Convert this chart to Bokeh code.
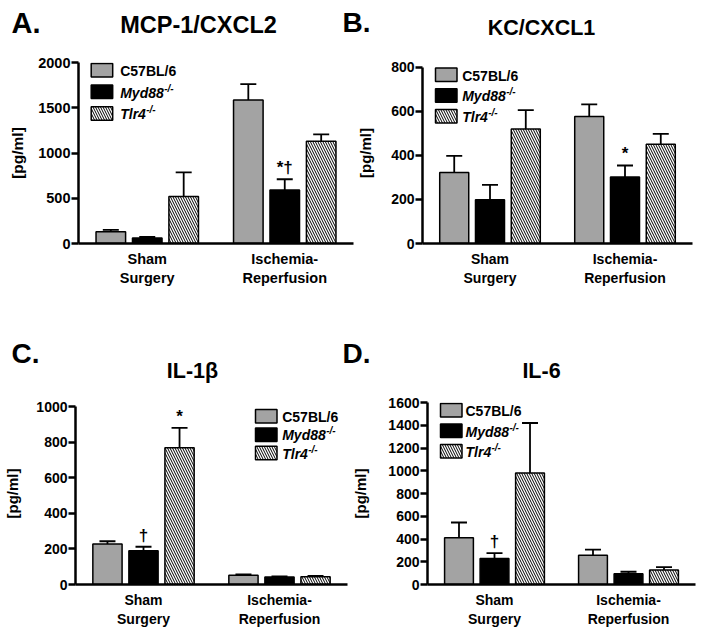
from bokeh.plotting import figure
from bokeh.models import ColumnDataSource, FactorRange, Label, BoxAnnotation, FixedTicker, Range1d
from bokeh.transform import dodge
from bokeh.layouts import row, column
from bokeh.embed import file_html
from bokeh.resources import INLINE
from bokeh.core.properties import value

FONT = "Liberation Sans"

groups = ["Sham\nSurgery", "Ischemia-\nReperfusion"]
strains = ["C57BL/6", "Myd88", "Tlr4"]

# A. MCP-1/CXCL2  (mean, SEM) for [Sham, Ischemia-Reperfusion]
mcp_wt = [130, 1585]
mcp_wt_sem = [20, 175]
mcp_myd = [60, 590]
mcp_myd_sem = [12, 120]
mcp_tlr = [520, 1130]
mcp_tlr_sem = [265, 75]
mcp_marks = [["", ""], ["", "*\u2020"], ["", ""]]
mcp_ticks = [0, 500, 1000, 1500, 2000]

# B. KC/CXCL1
kc_wt = [322, 576]
kc_wt_sem = [76, 55]
kc_myd = [198, 302]
kc_myd_sem = [68, 52]
kc_tlr = [520, 450]
kc_tlr_sem = [85, 47]
kc_marks = [["", ""], ["", "*"], ["", ""]]
kc_ticks = [0, 200, 400, 600, 800]

# C. IL-1beta
il1_wt = [228, 52]
il1_wt_sem = [15, 5]
il1_myd = [190, 42]
il1_myd_sem = [22, 4]
il1_tlr = [768, 44]
il1_tlr_sem = [112, 4]
il1_marks = [["", ""], ["\u2020", ""], ["*", ""]]
il1_ticks = [0, 200, 400, 600, 800, 1000]

# D. IL-6
il6_wt = [410, 258]
il6_wt_sem = [135, 48]
il6_myd = [228, 95]
il6_myd_sem = [48, 17]
il6_tlr = [980, 128]
il6_tlr_sem = [440, 25]
il6_marks = [["", ""], ["\u2020", ""], ["", ""]]
il6_ticks = [0, 200, 400, 600, 800, 1000, 1200, 1400, 1600]

panel_letters = ["A.", "B.", "C.", "D."]
panel_titles = ["MCP-1/CXCL2", "KC/CXCL1", "IL-1\u03b2", "IL-6"]

GRAY = "#a3a3a3"
bar_styles = [
    dict(fill_color=GRAY),
    dict(fill_color="black"),
    dict(fill_color="white", hatch_pattern="left_diagonal_line", hatch_color="black",
         hatch_scale=5, hatch_weight=1),
]
offsets = [-0.265, 0.0, 0.265]


def frame_origin(cfg):
    return cfg["cx"] + cfg["mbl"], cfg["cy"] + cfg["mbt"] + cfg["fh"]


def add_text(p, cfg, px, py, text, size, style="bold", align="left", baseline="middle"):
    fx, fy = frame_origin(cfg)
    p.add_layout(Label(x=px - fx, y=fy - py, x_units="screen", y_units="screen", text=text,
                       text_font=FONT, text_font_size=f"{size}px", text_font_style=style,
                       text_align=align, text_baseline=baseline, text_color="black"))


def add_box(p, cfg, x0, y0, w, h, style):
    fx, fy = frame_origin(cfg)
    p.add_layout(BoxAnnotation(left=x0 - fx, right=x0 + w - fx, top=fy - y0, bottom=fy - y0 - h,
                               left_units="screen", right_units="screen", top_units="screen",
                               bottom_units="screen", fill_alpha=1.0, line_color="black",
                               line_alpha=1.0, line_width=1.5, level="overlay", **style))


def make_panel(cfg, series, sems, marks, ticks):
    W, H = cfg["W"], cfg["H"]
    fs = cfg.get("fs", 14)
    fx, fy = frame_origin(cfg)
    # extend the range slightly when the top tick sits below the (row-aligned) frame top
    y_end = ticks[-1] * cfg["fh"] / (fy - cfg["tick_px"])
    p = figure(x_range=FactorRange(*groups), y_range=Range1d(0, y_end), width=W, height=H,
               output_backend="svg", toolbar_location=None,
               min_border_left=cfg["mbl"], min_border_right=W - cfg["mbl"] - cfg["fw"],
               min_border_top=cfg["mbt"], min_border_bottom=H - cfg["mbt"] - cfg["fh"])
    p.outline_line_color = None
    p.xgrid.visible = False
    p.ygrid.visible = False

    for j in range(3):
        top = [v + e for v, e in zip(series[j], sems[j])]
        src = ColumnDataSource(dict(g=groups, v=series[j], top=top, mark=marks[j]))
        xd = dodge("g", offsets[j], range=p.x_range)
        p.segment(x0=xd, y0="v", x1=xd, y1="top", source=src, line_color="black", line_width=1.8)
        p.scatter(x=xd, y="top", source=src, marker="dash", size=16, line_color="black",
                  line_width=1.8)
        p.vbar(x=xd, top="v", bottom=0, width=0.215, source=src, line_color="black",
               line_width=1.5, **bar_styles[j])
        p.text(x=xd, y="top", text="mark", source=src, text_align="center",
               text_baseline="bottom", y_offset=-2, text_font=value(FONT),
               text_font_size="17px", text_font_style="bold", text_color="black")

    yax = p.yaxis[0]
    yax.ticker = FixedTicker(ticks=ticks)
    yax.bounds = (0, ticks[-1])
    yax.axis_label = "[pg/ml]"
    yax.axis_label_text_font = FONT
    yax.axis_label_text_font_style = "bold"
    yax.axis_label_text_font_size = f"{fs + 1}px"
    yax.axis_label_text_color = "black"
    yax.axis_label_standoff = cfg["als"]
    yax.major_label_standoff = 1
    yax.major_tick_out = 7
    yax.major_tick_in = 0
    yax.minor_tick_out = 0
    yax.minor_tick_in = 0

    xax = p.xaxis[0]
    xax.major_tick_out = 0
    xax.major_tick_in = 0
    xax.major_label_standoff = 7

    for ax in (xax, yax):
        ax.axis_line_width = 2.5
        ax.axis_line_color = "black"
        ax.major_tick_line_width = 2.5
        ax.major_tick_line_color = "black"
        ax.major_label_text_font = FONT
        ax.major_label_text_font_style = "bold"
        ax.major_label_text_font_size = f"{fs}px"
        ax.major_label_text_color = "black"

    # legend
    lx, ly, dy, tx = cfg["leg"]
    sup_dx = [None, 44, 26]
    for j, name in enumerate(strains):
        y0 = ly + j * dy
        add_box(p, cfg, lx, y0, 21.5, 13.5, bar_styles[j])
        style = "bold" if j == 0 else "bold italic"
        add_text(p, cfg, tx, y0 + 7.5, name, 14, style=style)
        if j > 0:
            add_text(p, cfg, tx + sup_dx[j], y0 + 3, "-/-", 10, style="bold italic")
    return p


def make_header(top, width, height, items):
    h = figure(width=width, height=height, x_range=Range1d(0, width), y_range=Range1d(height, 0),
               x_axis_type=None, y_axis_type=None, output_backend="svg", toolbar_location=None,
               min_border=0, min_border_left=0, min_border_right=0, min_border_top=0,
               min_border_bottom=0)
    h.outline_line_color = None
    h.xgrid.visible = False
    h.ygrid.visible = False
    for (px, py, text, size, align) in items:
        h.add_layout(Label(x=px, y=py - top, text=text, text_font=FONT,
                           text_font_size=f"{size}px", text_font_style="bold",
                           text_align=align, text_baseline="middle", text_color="black"))
    return h


PAGE_W = 708
H1_TOP, H1_H = 0, 40
P1_TOP, P1_H = 40, 278
H2_TOP, H2_H = 318, 74
P2_TOP, P2_H = 392, 243

# frames in one row share top and bottom edges
ROW1 = dict(cy=P1_TOP, H=P1_H, mbt=22, fh=181)
ROW2 = dict(cy=P2_TOP, H=P2_H, mbt=10, fh=182)

cfgA = dict(ROW1, cx=0, W=354, mbl=78, fw=275, als=9, fs=14.5, tick_px=62,
            leg=(90.7, 63, 21.6, 119.7))
cfgB = dict(ROW1, cx=354, W=354, mbl=68, fw=270, als=14, tick_px=66.7,
            leg=(435, 67.5, 20.7, 461.7))
cfgC = dict(ROW2, cx=0, W=349, mbl=75, fw=272, als=12, tick_px=406,
            leg=(255, 409, 18.4, 281.7))
cfgD = dict(ROW2, cx=349, W=359, mbl=73, fw=273, als=16, tick_px=402,
            leg=(435, 403, 20.5, 460))

header1 = make_header(H1_TOP, PAGE_W, H1_H, [
    (11, 22, panel_letters[0], 29, "left"),
    (198, 24, panel_titles[0], 23.5, "center"),
    (342, 22, panel_letters[1], 28, "left"),
    (541, 27, panel_titles[1], 21.5, "center"),
])
header2 = make_header(H2_TOP, PAGE_W, H2_H, [
    (11, 353, panel_letters[2], 28, "left"),
    (192, 370, panel_titles[2], 21.5, "center"),
    (342, 353, panel_letters[3], 28, "left"),
    (541, 370, panel_titles[3], 21.5, "center"),
])

pA = make_panel(cfgA, [mcp_wt, mcp_myd, mcp_tlr], [mcp_wt_sem, mcp_myd_sem, mcp_tlr_sem],
                mcp_marks, mcp_ticks)
pB = make_panel(cfgB, [kc_wt, kc_myd, kc_tlr], [kc_wt_sem, kc_myd_sem, kc_tlr_sem],
                kc_marks, kc_ticks)
pC = make_panel(cfgC, [il1_wt, il1_myd, il1_tlr], [il1_wt_sem, il1_myd_sem, il1_tlr_sem],
                il1_marks, il1_ticks)
pD = make_panel(cfgD, [il6_wt, il6_myd, il6_tlr], [il6_wt_sem, il6_myd_sem, il6_tlr_sem],
                il6_marks, il6_ticks)

layout = column(header1, row(pA, pB), header2, row(pC, pD))
open("out.html", "w").write(file_html(layout, INLINE))
